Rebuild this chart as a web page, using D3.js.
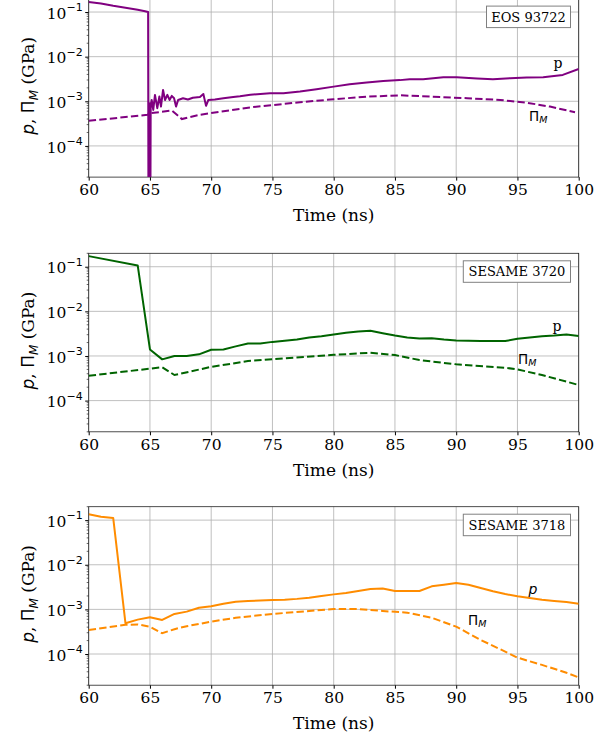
<!DOCTYPE html>
<html>
<head>
<meta charset="utf-8">
<script src="https://cdn.jsdelivr.net/npm/d3@7"></script>
<style>
  body { margin: 0; background: #fff; }
  svg { display: block; }
</style>
</head>
<body>
<div id="chart"></div>
<script>
// x ticks and y decades shared by all three panels
const timeTicks = [60, 65, 70, 75, 80, 85, 90, 95, 100];
const decadeTicks = [1e-1, 1e-2, 1e-3, 1e-4];
const yDomain = [2e-5, 2e-1];

// EOS 93722 (purple)
const eosPTime = [60, 61, 62, 63, 64, 64.6, 64.85, 64.88, 64.92, 64.96, 65.0, 65.03, 65.06, 65.1, 65.14, 65.27, 65.41, 65.6,
  65.77, 65.9, 66.07, 66.23, 66.42, 66.6, 66.78, 66.97, 67.13, 67.3, 67.7, 68.1, 68.5, 69.08, 69.36, 69.58, 69.77,
  70.3, 71.0, 71.8, 72.35, 73.2, 74.8, 75.9, 77.25, 78.6, 80.0, 81.3, 82.7, 84.05, 85.4, 86.2, 87.3, 88.95, 90.04,
  91.7, 93.0, 94.4, 95.75, 97.1, 98.7, 100];
const eosP = [0.168, 0.155, 0.138, 0.125, 0.112, 0.104, 0.1, 1e-6, 6e-4, 1e-6, 9e-4, 1e-6, 7e-4, 9e-4, 1.07e-3, 6.4e-4, 1.39e-3, 7.0e-4,
  1.28e-3, 7.6e-4, 1.8e-3, 1.07e-3, 1.39e-3, 1.07e-3, 1.32e-3, 1.17e-3, 7.6e-4, 1.07e-3, 1.17e-3, 1.1e-3, 1.2e-3, 1.25e-3, 1.46e-3, 7.9e-4, 1.07e-3,
  1.1e-3, 1.17e-3, 1.25e-3, 1.3e-3, 1.4e-3, 1.51e-3, 1.51e-3, 1.65e-3, 1.86e-3, 2.13e-3, 2.41e-3, 2.62e-3, 2.86e-3, 2.98e-3, 3.1e-3, 3.12e-3, 3.46e-3, 3.46e-3,
  3.24e-3, 3.12e-3, 3.3e-3, 3.4e-3, 3.46e-3, 3.9e-3, 5.3e-3];
const eosPiTime = [60, 64.8, 65, 66.8, 67.2, 67.6, 69.1, 73.2, 77.25, 80, 82.7, 85.4, 88.1, 90.9, 93.6, 95.75, 97.65, 99.7];
const eosPi = [3.65e-4, 4.97e-4, 5.4e-4, 6.2e-4, 5.0e-4, 4.0e-4, 5.0e-4, 7.3e-4, 9.5e-4, 1.11e-3, 1.27e-3, 1.36e-3, 1.27e-3, 1.17e-3, 1.07e-3, 9.3e-4, 7.6e-4, 5.7e-4];

// SESAME 3720 (green)
const s3720PTime = [60, 64, 65, 66, 67, 68, 69, 70, 71, 72, 73, 74, 75, 76, 77, 78, 79, 80, 81, 82, 83, 84, 85, 86, 87, 88, 89,
  90, 91, 92, 93, 94, 95, 96, 97, 98, 99, 100];
const s3720P = [0.173, 0.107, 1.4e-3, 8.4e-4, 1.0e-3, 1.0e-3, 1.09e-3, 1.38e-3, 1.4e-3, 1.64e-3, 1.9e-3, 1.9e-3, 2.07e-3, 2.19e-3, 2.34e-3, 2.6e-3,
  2.78e-3, 3.03e-3, 3.3e-3, 3.55e-3, 3.66e-3, 3.24e-3, 2.88e-3, 2.6e-3, 2.47e-3, 2.5e-3, 2.34e-3, 2.23e-3, 2.2e-3, 2.17e-3, 2.17e-3, 2.17e-3,
  2.42e-3, 2.6e-3, 2.78e-3, 2.88e-3, 3.03e-3, 2.8e-3];
const s3720PiTime = [60, 66, 67, 70, 73, 75, 80, 83, 85, 87, 90, 94, 95, 97, 100];
const s3720Pi = [3.6e-4, 5.6e-4, 3.75e-4, 5.7e-4, 7.7e-4, 8.5e-4, 1.06e-3, 1.18e-3, 1.05e-3, 8.1e-4, 6.5e-4, 5.45e-4, 5.0e-4, 3.75e-4, 2.24e-4];

// SESAME 3718 (orange)
const s3718PTime = [60, 61, 62, 63, 64, 65, 66, 67, 68, 69, 70, 71, 72, 73, 74, 75, 76, 77, 78, 79, 80, 81, 82, 83, 84, 85, 86,
  87, 88, 89, 90, 91, 92, 93, 94, 95, 96, 97, 98, 99, 100];
const s3718P = [0.136, 0.119, 0.112, 4.9e-4, 5.9e-4, 6.65e-4, 5.8e-4, 7.9e-4, 8.9e-4, 1.09e-3, 1.17e-3, 1.34e-3, 1.49e-3, 1.55e-3, 1.58e-3, 1.62e-3,
  1.65e-3, 1.72e-3, 1.83e-3, 2.0e-3, 2.17e-3, 2.33e-3, 2.58e-3, 2.86e-3, 2.95e-3, 2.58e-3, 2.58e-3, 2.58e-3, 3.28e-3, 3.57e-3, 3.89e-3, 3.57e-3,
  3.02e-3, 2.54e-3, 2.21e-3, 1.96e-3, 1.8e-3, 1.65e-3, 1.55e-3, 1.47e-3, 1.34e-3];
const s3718PiTime = [60, 63, 64, 65, 66, 67, 68, 70, 72, 75, 78, 80, 82, 84, 86, 88, 90, 92, 94, 95, 97, 99, 100];
const s3718Pi = [3.46e-4, 4.5e-4, 4.6e-4, 4.1e-4, 2.92e-4, 3.6e-4, 4.2e-4, 5.3e-4, 6.5e-4, 7.9e-4, 9.2e-4, 1.02e-3, 1.02e-3, 9.2e-4, 8.45e-4,
  6.5e-4, 4.1e-4, 2.07e-4, 1.13e-4, 8.3e-5, 5.7e-5, 3.8e-5, 3.0e-5];

const panels = [
  { name: 'EOS 93722', color: '#800080', pT: eosPTime, p: eosP, piT: eosPiTime, pi: eosPi,
    top: -1.4, box: [486.5, 570.5], pLab: [558, 68, false], piLab: [529, 121] },
  { name: 'SESAME 3720', color: '#006400', pT: s3720PTime, p: s3720P, piT: s3720PiTime, pi: s3720Pi,
    top: 253.3, box: [463.3, 570.5], pLab: [557, 331, false], piLab: [518, 364] },
  { name: 'SESAME 3718', color: '#ff8c00', pT: s3718PTime, p: s3718P, piT: s3718PiTime, pi: s3718Pi,
    top: 506.7, box: [463.3, 570.5], pLab: [533, 594, true], piLab: [468, 625] }
];

const left = 88.7, right = 578.7, plotH = 178.5;
const serif = 'DejaVu Serif', sans = 'DejaVu Sans';

const svg = d3.select('#chart').append('svg').attr('width', 611).attr('height', 739);

const x = d3.scaleLinear().domain([60, 100]).range([left, right]);

panels.forEach((pn, i) => {
  const y = d3.scaleLog().domain(yDomain).range([pn.top + plotH, pn.top]);
  const g = svg.append('g');

  g.append('clipPath').attr('id', 'clip' + i)
    .append('rect').attr('x', left).attr('y', pn.top).attr('width', right - left).attr('height', plotH);

  // grid
  g.append('g').selectAll('line').data(timeTicks).join('line')
    .attr('x1', d => x(d)).attr('x2', d => x(d)).attr('y1', pn.top).attr('y2', pn.top + plotH)
    .attr('stroke', '#b0b0b0').attr('stroke-width', 0.8);
  g.append('g').selectAll('line').data(decadeTicks).join('line')
    .attr('x1', left).attr('x2', right).attr('y1', d => y(d)).attr('y2', d => y(d))
    .attr('stroke', '#b0b0b0').attr('stroke-width', 0.8);

  // x axis
  const xAxis = g.append('g').attr('transform', `translate(0,${pn.top + plotH})`)
    .call(d3.axisBottom(x).tickValues(timeTicks).tickSize(3.5).tickPadding(3.5).tickFormat(d3.format('d')));
  xAxis.select('.domain').remove();
  xAxis.selectAll('text').attr('font-family', serif).attr('font-size', 15.5).attr('fill', '#000');

  // y axis with minor ticks
  const minor = [];
  for (let e = -5; e <= -1; e++) for (let m = 2; m <= 9; m++) {
    const v = m * Math.pow(10, e);
    if (v >= yDomain[0] && v <= yDomain[1]) minor.push(v);
  }
  g.append('g').selectAll('line').data(minor).join('line')
    .attr('x1', left - 2).attr('x2', left).attr('y1', d => y(d)).attr('y2', d => y(d))
    .attr('stroke', '#000').attr('stroke-width', 0.6);
  const yAxis = g.append('g').attr('transform', `translate(${left},0)`)
    .call(d3.axisLeft(y).tickValues(decadeTicks).tickSize(3.5).tickPadding(3.5).tickFormat(''));
  yAxis.select('.domain').remove();
  yAxis.selectAll('.tick').append('text')
    .attr('x', -6).attr('dy', '0.4em').attr('text-anchor', 'end').attr('fill', '#000')
    .attr('font-family', serif).attr('font-size', 15.5)
    .each(function (d) {
      const t = d3.select(this);
      t.append('tspan').text('10');
      t.append('tspan').attr('font-family', sans).attr('font-size', 11).attr('dy', -7.5)
        .text('\u2212' + (-Math.round(Math.log10(d))));
    });

  // spines
  g.append('rect').attr('x', left).attr('y', pn.top).attr('width', right - left).attr('height', plotH)
    .attr('fill', 'none').attr('stroke', '#222').attr('stroke-width', 0.8);

  // lines
  const line = (tArr, vArr) => d3.line().x((d, k) => x(tArr[k])).y(d => y(d))(vArr);
  const clip = g.append('g').attr('clip-path', `url(#clip${i})`);
  clip.append('path').attr('d', line(pn.piT, pn.pi))
    .attr('fill', 'none').attr('stroke', pn.color).attr('stroke-width', 2)
    .attr('stroke-dasharray', '7.4 3.2');
  clip.append('path').attr('d', line(pn.pT, pn.p))
    .attr('fill', 'none').attr('stroke', pn.color).attr('stroke-width', 2).attr('stroke-linejoin', 'round');

  // labels on lines
  const pl = g.append('text').attr('x', pn.pLab[0]).attr('y', pn.pLab[1]).attr('text-anchor', 'middle')
    .attr('font-size', 14).attr('fill', '#000');
  if (pn.pLab[2]) pl.attr('font-family', sans).attr('font-style', 'italic').text('p');
  else pl.attr('font-family', serif).text('p');
  const pil = g.append('text').attr('x', pn.piLab[0]).attr('y', pn.piLab[1]).attr('font-family', sans)
    .attr('font-size', 13.5).attr('fill', '#000');
  pil.append('tspan').text('\u03a0');
  pil.append('tspan').attr('font-style', 'italic').attr('font-size', 9.5).attr('dy', 2).text('M');

  // name box
  const by = pn.top + 7.5;
  g.append('rect').attr('x', pn.box[0]).attr('y', by).attr('width', pn.box[1] - pn.box[0]).attr('height', 21.5)
    .attr('fill', '#fff').attr('stroke', '#808080').attr('stroke-width', 1);
  g.append('text').attr('x', (pn.box[0] + pn.box[1]) / 2).attr('y', by + 15.5).attr('text-anchor', 'middle')
    .attr('font-family', serif).attr('font-size', 13).attr('fill', '#000').text(pn.name);

  // axis titles
  g.append('text').attr('x', (left + right) / 2).attr('y', pn.top + plotH + 44).attr('text-anchor', 'middle')
    .attr('font-family', serif).attr('font-size', 17).attr('fill', '#000').text('Time (ns)');
  const yl = g.append('text').attr('transform', `translate(34,${pn.top + plotH / 2 - 2}) rotate(-90)`)
    .attr('text-anchor', 'middle').attr('font-family', serif).attr('font-size', 17).attr('fill', '#000');
  yl.append('tspan').attr('font-family', sans).attr('font-style', 'italic').text('p');
  yl.append('tspan').text(', ');
  yl.append('tspan').attr('font-family', sans).text('\u03a0');
  yl.append('tspan').attr('font-family', sans).attr('font-style', 'italic').attr('font-size', 12).attr('dy', 3.5).text('M');
  yl.append('tspan').attr('dy', -3.5).text(' (GPa)');
});
</script>
</body>
</html>
